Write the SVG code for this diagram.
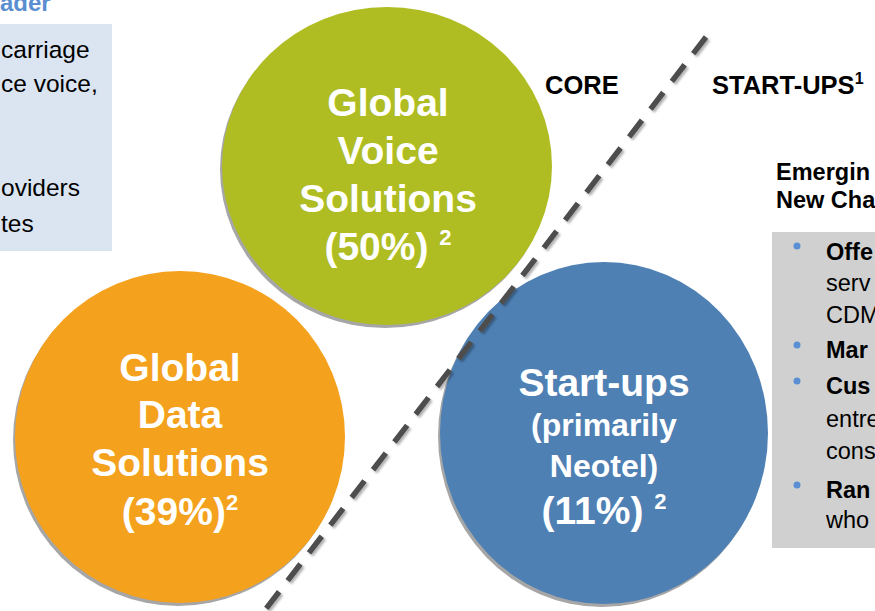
<svg xmlns="http://www.w3.org/2000/svg" width="875" height="611" viewBox="0 0 875 611">
<defs>
<style>
.t{font-family:"Liberation Sans",Arial,sans-serif}
.w{fill:#ffffff;font-weight:bold;text-anchor:middle;font-family:"Liberation Sans",Arial,sans-serif}
.b{font-weight:bold}
.lt{font-family:"Liberation Sans",Arial,sans-serif;font-size:24.5px;fill:#000}
.rt{font-family:"Liberation Sans",Arial,sans-serif;font-size:23.5px;fill:#000}
.sh{fill:#a6a6a6}
.dot{fill:#5b8fd3}
</style>
<filter id="ds" x="-10%" y="-10%" width="120%" height="120%">
<feGaussianBlur in="SourceAlpha" stdDeviation="1.2"/>
<feOffset dx="2" dy="2" result="o"/>
<feFlood flood-color="#000" flood-opacity="0.3"/>
<feComposite in2="o" operator="in"/>
<feMerge><feMergeNode/><feMergeNode in="SourceGraphic"/></feMerge>
</filter>
</defs>
<rect width="875" height="611" fill="#ffffff"/>

<g id="left-panel">
<text class="t b" x="0" y="11" font-size="24" fill="#5a8ed0">ader</text>
<rect x="0" y="24" width="112" height="227" fill="#dbe5f1"/>
<text class="lt" x="1" y="58">carriage</text>
<text class="lt" x="1" y="92">ce voice,</text>
<text class="lt" x="1" y="196">oviders</text>
<text class="lt" x="1" y="232">tes</text>
</g>

<g id="labels">
<text class="t b" x="545" y="94" font-size="25.5">CORE</text>
<text class="t b" x="712" y="94" font-size="25.5">START-UPS<tspan font-size="16" dy="-10">1</tspan></text>
</g>

<g id="node-data">
<ellipse class="sh" cx="178" cy="440" rx="165" ry="166"/>
<ellipse cx="180" cy="437" rx="165" ry="166" fill="#f4a11d"/>
<text class="w" font-size="39" x="180" y="381">Global</text>
<text class="w" font-size="39" x="180" y="428">Data</text>
<text class="w" font-size="39" x="180" y="476">Solutions</text>
<text class="w" font-size="39" x="180" y="525">(39%)<tspan font-size="22" dy="-15">2</tspan></text>
</g>

<g id="node-voice">
<ellipse class="sh" cx="385" cy="169" rx="165" ry="159"/>
<ellipse cx="387" cy="166" rx="165" ry="159" fill="#afbd22"/>
<text class="w" font-size="39" x="388" y="116">Global</text>
<text class="w" font-size="39" x="388" y="164">Voice</text>
<text class="w" font-size="39" x="388" y="212">Solutions</text>
<text class="w" font-size="39" x="388" y="260">(50%) <tspan font-size="22" dy="-15">2</tspan></text>
</g>

<g id="node-startups">
<ellipse class="sh" cx="602" cy="436" rx="164" ry="171"/>
<ellipse cx="604" cy="433" rx="164" ry="171" fill="#4e80b4"/>
<text class="w" font-size="39" x="604" y="396">Start-ups</text>
<text class="w" font-size="32" x="604" y="436">(primarily</text>
<text class="w" font-size="32" x="604" y="477">Neotel)</text>
<text class="w" font-size="39" x="604" y="524">(11%) <tspan font-size="22" dy="-15">2</tspan></text>
</g>

<g id="connectors">
<line x1="706" y1="37" x2="262" y2="614" stroke="#4d4d4d" stroke-width="5.5" stroke-dasharray="21 14" filter="url(#ds)"/>
</g>

<g id="right-panel">
<text class="rt b" x="776" y="180">Emergin</text>
<text class="rt b" x="776" y="208">New Cha</text>
<rect x="772" y="232" width="103" height="316" fill="#d0d0d0"/>
<circle class="dot" cx="797" cy="246" r="3.5"/>
<circle class="dot" cx="797" cy="345" r="3.5"/>
<circle class="dot" cx="797" cy="381" r="3.5"/>
<circle class="dot" cx="797" cy="485" r="3.5"/>
<text class="rt b" x="826" y="260">Offe</text>
<text class="rt" x="826" y="291">serv</text>
<text class="rt" x="826" y="323">CDM</text>
<text class="rt b" x="826" y="358">Mar</text>
<text class="rt b" x="826" y="394">Cus</text>
<text class="rt" x="826" y="427">entre</text>
<text class="rt" x="826" y="459">cons</text>
<text class="rt b" x="826" y="498">Ran</text>
<text class="rt" x="826" y="528">who</text>
</g>
</svg>
